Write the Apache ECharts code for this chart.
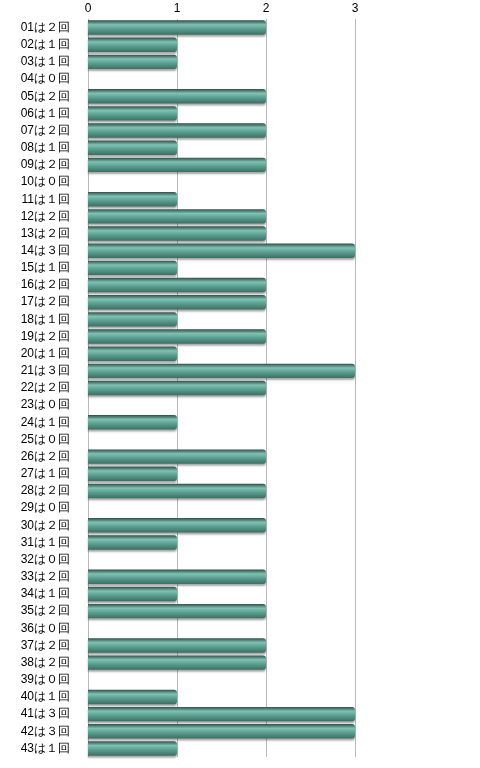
<!DOCTYPE html><html><head><meta charset="utf-8"><script src="https://cdn.jsdelivr.net/npm/echarts@6/dist/echarts.min.js"></script></head><body style="margin:0"><div id="c" style="width:480px;height:768px"></div><script>
const categories=['01は２回','02は１回','03は１回','04は０回','05は２回','06は１回','07は２回','08は１回','09は２回','10は０回','11は１回','12は２回','13は２回','14は３回','15は１回','16は２回','17は２回','18は１回','19は２回','20は１回','21は３回','22は２回','23は０回','24は１回','25は０回','26は２回','27は１回','28は２回','29は０回','30は２回','31は１回','32は０回','33は２回','34は１回','35は２回','36は０回','37は２回','38は２回','39は０回','40は１回','41は３回','42は３回','43は１回'];
const values=[2,1,1,0,2,1,2,1,2,0,1,2,2,3,1,2,2,1,2,1,3,2,0,1,0,2,1,2,0,2,1,0,2,1,2,0,2,2,0,1,3,3,1];
const xTicks=[0,1,2,3];
const chart=echarts.init(document.getElementById('c'));
chart.setOption({
 grid:{left:88,right:125,top:19,bottom:11},
 xAxis:{type:'value',min:0,max:3,interval:1,position:'top',axisLine:{show:false},axisTick:{show:false},
  axisLabel:{color:'#000',fontSize:12,margin:4,formatter:v=>xTicks.includes(v)?String(v):''},
  splitLine:{lineStyle:{color:'#bbb'}}},
 yAxis:{type:'category',data:categories,inverse:true,axisLine:{show:false},axisTick:{show:false},
  axisLabel:{color:'#000',fontSize:12,margin:18}},
 series:[{type:'bar',data:values,barCategoryGap:'16%',
  itemStyle:{borderRadius:[0,3,3,0],shadowColor:'rgba(0,0,0,0.35)',shadowOffsetY:2,shadowBlur:2,
   color:new echarts.graphic.LinearGradient(0,0,0,1,[{offset:0,color:'#2f4f47'},{offset:0.3,color:'#7fc2b4'},{offset:0.6,color:'#5a9e90'},{offset:1,color:'#3d6e63'}])}}]
});
</script></body></html>
